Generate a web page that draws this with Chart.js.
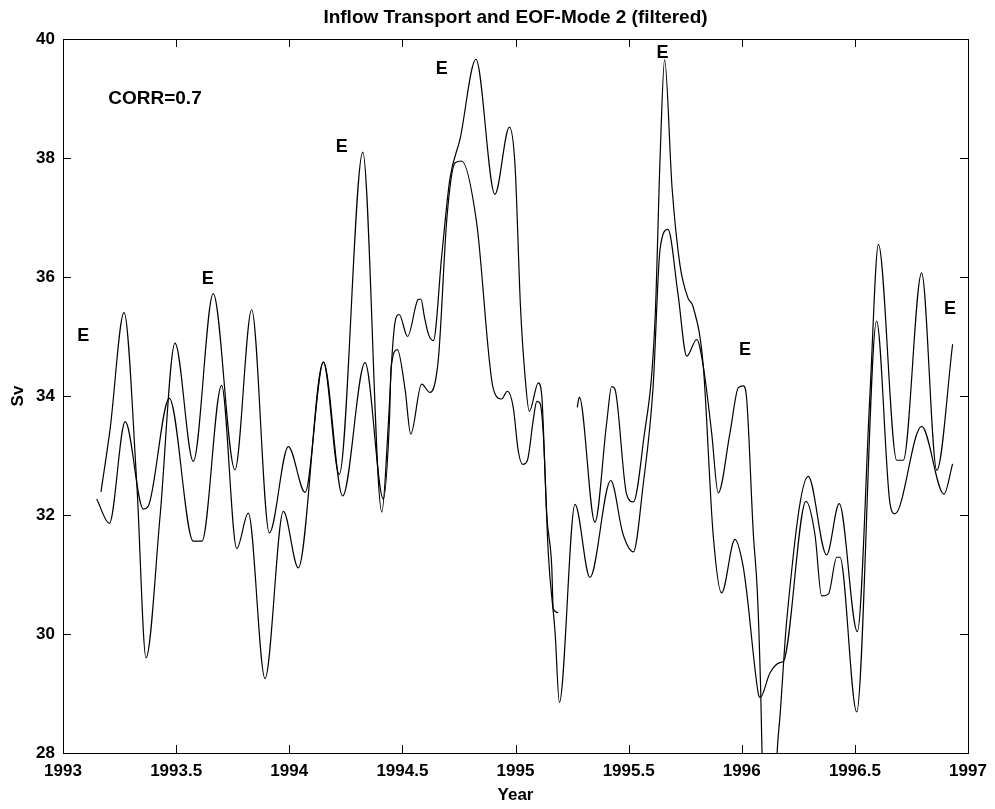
<!DOCTYPE html>
<html>
<head>
<meta charset="utf-8">
<script src="https://cdn.jsdelivr.net/npm/chart.js@4.4.0/dist/chart.umd.min.js"></script>
<style>
  body { margin: 0; background: #fff; }
  #wrap { width: 995px; height: 809px; }
</style>
</head>
<body>
<div id="wrap"><canvas id="eofChart" width="995" height="809"></canvas></div>
<script>
// inflow transport (the curve with the gap in 1995)
const inflowYears = [1993.168, 1993.208, 1993.270, 1993.326, 1993.367, 1993.429, 1993.495, 1993.576, 1993.664, 1993.760,
  1993.834, 1993.912, 1993.996, 1994.070, 1994.151, 1994.221, 1994.325, 1994.409, 1994.439, 1994.453,
  1994.467, 1994.486, 1994.523, 1994.570, 1994.582, 1994.597, 1994.615, 1994.637, 1994.674, 1994.710,
  1994.755, 1994.825, 1994.909, 1994.973, 1994.998, 1995.022, 1995.042, 1995.061, 1995.101, 1995.116,
  1995.138, 1995.160, 1995.167, 1995.189, 1995.230, 1995.273, 1995.282, 1995.351, 1995.403, 1995.425,
  1995.440, 1995.491, 1995.521, 1995.564, 1995.617, 1995.639, 1995.659, 1995.692, 1995.727, 1995.762,
  1995.785, 1995.830, 1995.873, 1995.911, 1995.970, 1996.006, 1996.022, 1996.073, 1996.081, 1996.125,
  1996.169, 1996.184, 1996.284, 1996.324, 1996.353, 1996.383, 1996.420, 1996.434, 1996.508, 1996.596,
  1996.655, 1996.677, 1996.795, 1996.894, 1996.932];
const inflowSv = [32.39, 33.44, 35.40, 32.54, 29.60, 31.98, 34.89, 32.90, 35.72, 32.76,
  35.45, 31.70, 33.15, 32.38, 34.57, 32.68, 38.10, 32.05, 33.60, 34.61,
  35.23, 35.37, 35.00, 35.62, 35.63, 35.34, 35.04, 34.93, 36.36, 37.65,
  38.32, 39.66, 37.39, 38.52, 37.87, 35.50, 34.34, 33.74, 34.22, 34.01,
  32.02, 31.15, 30.42, 30.36, null, 33.81, 33.98, 31.88, 33.55, 34.16,
  34.11, 32.35, 32.22, 33.20, 35.30, 38.00, 39.65, 37.50, 36.20, 35.65,
  35.50, 34.50, 31.70, 30.69, 31.59, 31.14, 30.70, 29.00, 28.93, 29.35,
  29.52, 29.54, 32.23, 31.66, 30.64, 30.67, 31.29, 31.29, 28.69, 35.26,
  32.20, 32.02, 33.49, 32.35, 32.86];

// EOF mode 2 (scaled to Sv)
const eofYears = [1993.149, 1993.205, 1993.275, 1993.355, 1993.377, 1993.470, 1993.576, 1993.614, 1993.701, 1993.768,
  1993.819, 1993.893, 1993.974, 1994.040, 1994.151, 1994.236, 1994.335, 1994.416, 1994.443, 1994.450,
  1994.478, 1994.512, 1994.537, 1994.585, 1994.622, 1994.659, 1994.697, 1994.733, 1994.762, 1994.828,
  1994.902, 1994.939, 1994.964, 1994.990, 1995.012, 1995.032, 1995.052, 1995.079, 1995.094, 1995.108,
  1995.123, 1995.145, 1995.175, 1995.194, 1995.263, 1995.329, 1995.421, 1995.475, 1995.521, 1995.564,
  1995.608, 1995.639, 1995.674, 1995.718, 1995.757, 1995.801, 1995.830, 1995.867, 1995.896, 1995.948,
  1995.985, 1996.007, 1996.022, 1996.051, 1996.069, 1996.084, 1996.095, 1996.120, 1996.150, 1996.159,
  1996.169, 1996.199, 1996.294, 1996.375, 1996.431, 1996.511, 1996.567, 1996.604, 1996.685, 1996.714,
  1996.795, 1996.862, 1996.932];
const eofSv = [32.27, 31.86, 33.57, 32.10, 32.15, 33.96, 31.56, 31.56, 34.18, 31.44,
  32.03, 29.25, 32.06, 31.11, 34.57, 32.32, 34.56, 32.27, 33.60, 34.47,
  34.78, 34.11, 33.36, 34.20, 34.06, 34.62, 37.00, 37.92, 37.95, 36.92,
  34.12, 33.95, 34.08, 33.81, 33.08, 32.85, 32.91, 33.61, 33.91, 33.88,
  33.35, 31.35, 30.02, 28.85, 32.18, 30.95, 32.58, 31.68, 31.38, 32.50,
  34.14, 36.47, 36.80, 35.72, 34.67, 34.95, 34.50, 33.38, 32.37, 33.38,
  34.14, 34.17, 33.94, 31.70, 30.70, 29.00, 27.00, null, 27.50, 28.17,
  28.62, 30.24, 32.65, 31.33, 32.19, 30.04, 34.06, 36.55, 32.92, 32.92,
  36.07, 32.75, 34.87];

// "E" markers and the correlation note
const eventYears = [1993.09, 1993.64, 1994.232, 1994.674, 1995.65, 1996.014, 1996.92];
const eventSv = [35.0, 35.97, 38.19, 39.49, 39.77, 34.78, 35.47];
const corrText = "CORR=0.7";
const corrAt = [1993.2, 39.0];

const xTicks = [1993, 1993.5, 1994, 1994.5, 1995, 1995.5, 1996, 1996.5, 1997];
const yTicks = [28, 30, 32, 34, 36, 38, 40];

const font = '"Liberation Sans", Arial, sans-serif';

function toPoints(xs, ys) {
  return xs.map((x, i) => ({ x: x, y: ys[i] }));
}

// MATLAB style box with inward ticks, title and text labels
const boxPlugin = {
  id: 'boxPlugin',
  afterDraw(chart) {
    const ctx = chart.ctx;
    const a = chart.chartArea;
    const xs = chart.scales.x, ys = chart.scales.y;
    ctx.save();
    ctx.strokeStyle = '#000';
    ctx.lineWidth = 1;
    ctx.beginPath();
    xTicks.forEach(v => {
      const px = Math.round(xs.getPixelForValue(v)) + 0.5;
      ctx.moveTo(px, a.bottom); ctx.lineTo(px, a.bottom - 8);
      ctx.moveTo(px, a.top); ctx.lineTo(px, a.top + 8);
    });
    yTicks.forEach(v => {
      const py = Math.round(ys.getPixelForValue(v)) + 0.5;
      ctx.moveTo(a.left, py); ctx.lineTo(a.left + 8, py);
      ctx.moveTo(a.right, py); ctx.lineTo(a.right - 8, py);
    });
    ctx.stroke();
    ctx.strokeRect(a.left + 0.5, a.top + 0.5, a.right - a.left, a.bottom - a.top);

    ctx.fillStyle = '#000';
    ctx.textAlign = 'center';
    ctx.textBaseline = 'middle';
    ctx.font = 'bold 19px ' + font;
    ctx.fillText('Inflow Transport and EOF-Mode 2 (filtered)', (a.left + a.right) / 2, 18);

    ctx.font = 'bold 18px ' + font;
    eventYears.forEach((yr, i) => {
      ctx.fillText('E', xs.getPixelForValue(yr), ys.getPixelForValue(eventSv[i]));
    });
    ctx.textAlign = 'left';
    ctx.font = 'bold 19px ' + font;
    ctx.fillText(corrText, xs.getPixelForValue(corrAt[0]), ys.getPixelForValue(corrAt[1]));
    ctx.restore();
  }
};

const lineStyle = {
  borderColor: '#000',
  borderWidth: 1.2,
  pointRadius: 0,
  fill: false,
  cubicInterpolationMode: 'monotone',
  spanGaps: false
};

new Chart(document.getElementById('eofChart'), {
  type: 'line',
  data: {
    datasets: [
      Object.assign({ label: 'Inflow Transport', data: toPoints(inflowYears, inflowSv) }, lineStyle),
      Object.assign({ label: 'EOF-Mode 2', data: toPoints(eofYears, eofSv) }, lineStyle)
    ]
  },
  options: {
    responsive: false,
    animation: false,
    devicePixelRatio: 1,
    layout: { padding: { top: 39, right: 27, left: 0, bottom: 0 } },
    plugins: { legend: { display: false }, tooltip: { enabled: false } },
    scales: {
      x: {
        type: 'linear',
        min: 1993, max: 1997,
        afterFit(scale) { scale.height = 56; },
        afterBuildTicks(scale) { scale.ticks = xTicks.map(v => ({ value: v })); },
        grid: { display: false, drawTicks: false },
        border: { display: false },
        ticks: {
          color: '#000', padding: 8,
          font: { family: font, size: 17, weight: 'bold' },
          callback: v => String(v),
          maxRotation: 0
        },
        title: {
          display: true, text: 'Year', color: '#000',
          font: { family: font, size: 17, weight: 'bold' },
          padding: { top: 0, bottom: 3 }
        }
      },
      y: {
        min: 28, max: 40,
        afterFit(scale) { scale.width = 63; },
        afterBuildTicks(scale) { scale.ticks = yTicks.map(v => ({ value: v })); },
        grid: { display: false, drawTicks: false },
        border: { display: false },
        ticks: {
          color: '#000', padding: 8,
          font: { family: font, size: 17, weight: 'bold' },
          callback: v => String(v)
        },
        title: {
          display: true, text: 'Sv', color: '#000',
          font: { family: font, size: 17, weight: 'bold' },
          padding: { top: 8, bottom: 0 }
        }
      }
    }
  },
  plugins: [boxPlugin]
});
</script>
</body>
</html>
